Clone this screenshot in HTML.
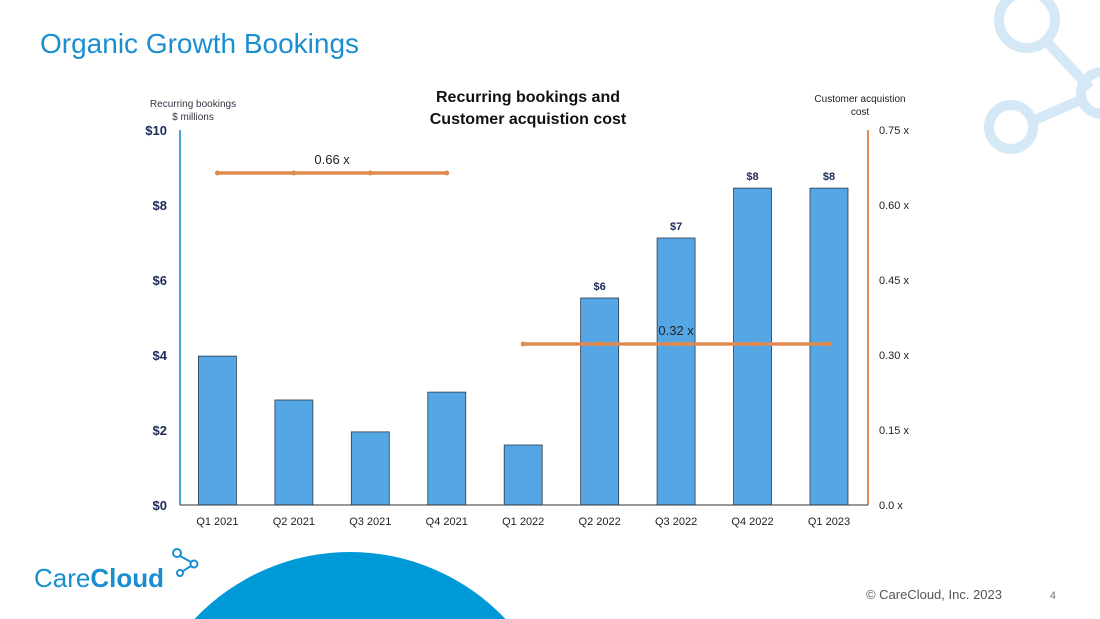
<!DOCTYPE html>
<html><head><meta charset="utf-8"><style>
html,body{margin:0;width:1100px;height:619px;overflow:hidden;background:#fff;font-family:"Liberation Sans",sans-serif;position:relative}
svg{display:block}
</style></head><body>
<svg width="1100" height="619" style="position:absolute;left:0;top:0">
<g stroke="#d4e8f6" stroke-width="10" fill="none">
<line x1="1045" y1="40" x2="1090" y2="88"/><line x1="1030" y1="122" x2="1085" y2="98"/>
<circle cx="1027" cy="20" r="28"/><circle cx="1102" cy="93" r="21"/><circle cx="1011" cy="127" r="22"/>
</g>
<path d="M194.5 619 A214 214 0 0 1 505.5 619 Z" fill="#0099d8"/>
<text x="40" y="53" font-size="28" fill="#1a8fd0">Organic Growth Bookings</text>
<text x="528" y="102" font-size="16" font-weight="bold" fill="#111" text-anchor="middle">Recurring bookings and</text>
<text x="528" y="124" font-size="16" font-weight="bold" fill="#111" text-anchor="middle">Customer acquistion cost</text>
<text x="193" y="107" font-size="10" fill="#334" text-anchor="middle">Recurring bookings</text>
<text x="193" y="120" font-size="10" fill="#334" text-anchor="middle">$ millions</text>
<text x="860" y="102" font-size="10" fill="#222" text-anchor="middle">Customer  acquistion</text>
<text x="860" y="115" font-size="10" fill="#222" text-anchor="middle">cost</text>
<g id="chart"></g>
<text x="34" y="587" font-size="26" fill="#1a8fd0">Care<tspan font-weight="bold">Cloud</tspan></text>
<g stroke="#1a8fd0" stroke-width="2" fill="none"><circle cx="177" cy="553" r="4"/><circle cx="194" cy="564" r="3.5"/><circle cx="180" cy="573" r="3"/><line x1="180" y1="556" x2="191" y2="562"/><line x1="183" y1="571" x2="191" y2="566"/></g>
<text x="1002" y="599" font-size="13" fill="#555" text-anchor="end">© CareCloud, Inc. 2023</text>
<text x="1056" y="599" font-size="11" fill="#777" text-anchor="end">4</text>
</svg>
<script>
const categories=["Q1 2021","Q2 2021","Q3 2021","Q4 2021","Q1 2022","Q2 2022","Q3 2022","Q4 2022","Q1 2023"];
const bookings=[3.97,2.8,1.95,3.01,1.6,5.52,7.12,8.45,8.45];
const barLabels=["","","","","","$6","$7","$8","$8"];
const leftTicks=[0,2,4,6,8,10];
const rightTicks=[0,0.15,0.30,0.45,0.60,0.75];
const rightTickLabels=["0.0 x","0.15 x","0.30 x","0.45 x","0.60 x","0.75 x"];
const cacSegments=[{from:0,to:3,value:0.664,label:"0.66 x"},{from:4,to:8,value:0.322,label:"0.32 x"}];
const NS="http://www.w3.org/2000/svg";
const g=document.getElementById('chart');
const x0=180,x1=868,yb=505,yt=130;
const yL=v=>yb-(v/10)*(yb-yt);
const yR=v=>yb-(v/0.75)*(yb-yt);
const step=(x1-x0)/categories.length;
const xC=i=>x0+step*(i+0.5)-0.8;
function mk(t,a,txt){const e=document.createElementNS(NS,t);for(const k in a)e.setAttribute(k,a[k]);if(txt!==undefined)e.textContent=txt;g.appendChild(e);return e;}
let e;
e=mk('line',{x1:x0,y1:yt,x2:x0,y2:yb,stroke:'#4aa3d8','stroke-width':2});


e=mk('line',{x1:x1,y1:yt,x2:x1,y2:yb,stroke:'#e08a50','stroke-width':2});


leftTicks.forEach(v=>{e=mk('text',{x:167,y:yL(v)+5,'font-size':13,'font-weight':'bold',fill:'#1d2a5a','text-anchor':'end'},'$'+v);

});
rightTicks.forEach((v,i)=>{e=mk('text',{x:879,y:yR(v)+4,'font-size':11,fill:'#222'},rightTickLabels[i]);

});
categories.forEach((c,i)=>{
e=mk('rect',{x:xC(i)-19,y:yL(bookings[i]),width:38,height:yb-yL(bookings[i]),fill:'#55a6e4',stroke:'#2d3b4a','stroke-width':0.8});


e=mk('text',{x:xC(i),y:525,'font-size':11,fill:'#222','text-anchor':'middle'},c);


if(barLabels[i]){e=mk('text',{x:xC(i),y:yL(bookings[i])-8,'font-size':11,'font-weight':'bold',fill:'#1d2a5a','text-anchor':'middle'},barLabels[i]);

}
});
e=mk('line',{x1:x0,y1:yb,x2:x1,y2:yb,stroke:'#333','stroke-width':1});


cacSegments.forEach(s=>{
e=mk('line',{x1:xC(s.from),y1:yR(s.value),x2:xC(s.to),y2:yR(s.value),stroke:'#e08a50','stroke-width':3.5,'stroke-linecap':'round'});


for(let i=s.from;i<=s.to;i++){e=mk('circle',{cx:xC(i),cy:yR(s.value),r:2.5,fill:'#e08a50'});

}
e=mk('text',{x:(xC(s.from)+xC(s.to))/2,y:yR(s.value)-9,'font-size':13,fill:'#222','text-anchor':'middle'},s.label);


});
</script>
</body></html>
